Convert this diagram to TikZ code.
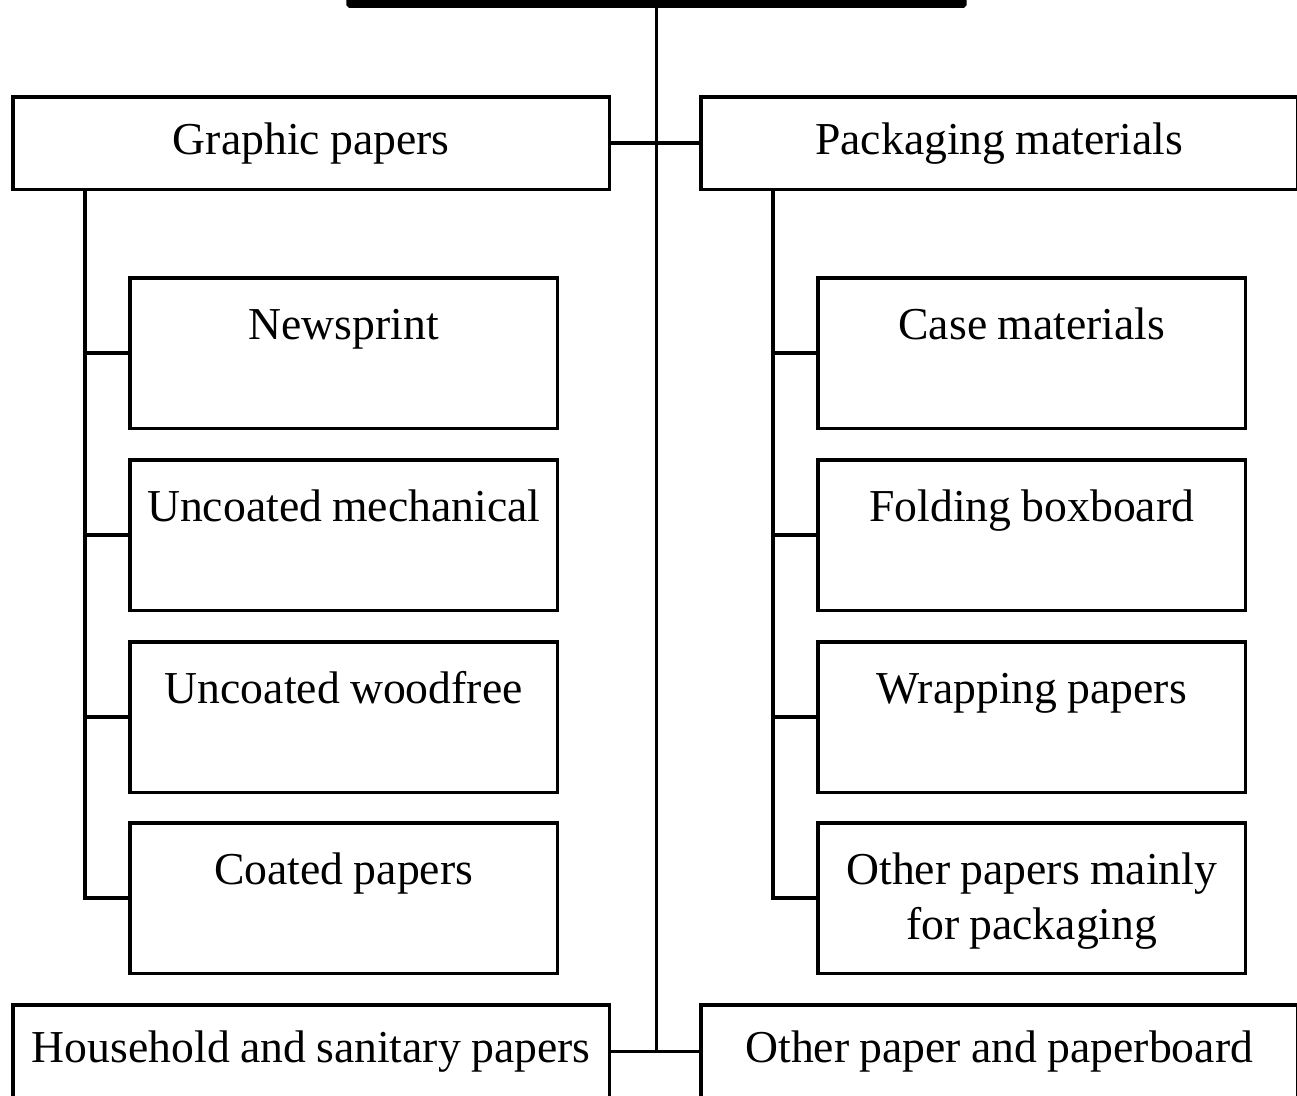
\documentclass[tikz,border=0pt]{standalone}
\usepackage{fontspec}
\setmainfont{Liberation Serif}[WordSpace=0.9]
\usepackage{tikz}
\usetikzlibrary{positioning}

\begin{document}
\begin{tikzpicture}[
    x=0.02cm,
    y=-0.02cm,
    font=\fontsize{26}{31.3}\selectfont,
    rootbar/.style={
        rectangle,
        draw=black,
        fill=black,
        line width=2pt,
        rounded corners=1pt,
        minimum width=12.34cm,
        minimum height=1cm,
        inner sep=0pt
    },
    group/.style={
        rectangle,
        draw=black,
        line width=2pt,
        align=flush center,
        minimum width=11.94cm,
        minimum height=1.86cm,
        inner sep=0pt
    },
    leaf/.style={
        rectangle,
        draw=black,
        line width=2pt,
        align=flush center,
        text width=8.56cm,
        text height=1.24cm,
        text depth=1.78cm,
        inner sep=0pt
    },
    link/.style={
        draw=black,
        line width=2pt
    }
]
    \useasboundingbox (0,0) rectangle (1297,1095);
    \clip (0,0) rectangle (1297,1095);

    % Level 1: root (cut off at the top)
    \node [rootbar, anchor=south] (root) at (656.5,8) {};

    % Level 2: main groups
    \node [group, anchor=north west] (graphic) at (11,95) {Graphic papers};
    \node [group, anchor=north west] (packaging) at (699,95) {Packaging materials};

    % Level 3: graphic papers
    \node [leaf, anchor=north west] (news) at (128,276) {Newsprint};
    \node [leaf, anchor=north west] (mech) at (128,458) {Uncoated mechanical};
    \node [leaf, anchor=north west] (wood) at (128,640) {Uncoated woodfree};
    \node [leaf, anchor=north west] (coated) at (128,821) {Coated papers};

    % Level 3: packaging materials
    \node [leaf, anchor=north west] (case) at (816,276) {Case materials};
    \node [leaf, anchor=north west] (folding) at (816,458) {Folding boxboard};
    \node [leaf, anchor=north west] (wrap) at (816,640) {Wrapping papers};
    \node [leaf, anchor=north west] (otherpack) at (816,821) {Other papers mainly\\for packaging};

    % Level 4: bottom groups (cut off at the bottom)
    \node [group, anchor=north west] (household) at (11,1003) {Household and sanitary papers};
    \node [group, anchor=north west] (otherpaper) at (699,1003) {Other paper and paperboard};

    % Connections
    \draw [link] (root.south) -- (household.east -| root.south);
    \draw [link] (graphic.east) -- (packaging.west);
    \draw [link] (household.east) -- (otherpaper.west);

    \draw [link] ([xshift=1.48cm]graphic.south west) |- (coated.west);
    \draw [link] (news.west) -- ++(-44,0);
    \draw [link] (mech.west) -- ++(-44,0);
    \draw [link] (wood.west) -- ++(-44,0);

    \draw [link] ([xshift=1.48cm]packaging.south west) |- (otherpack.west);
    \draw [link] (case.west) -- ++(-44,0);
    \draw [link] (folding.west) -- ++(-44,0);
    \draw [link] (wrap.west) -- ++(-44,0);

\end{tikzpicture}
\end{document}
